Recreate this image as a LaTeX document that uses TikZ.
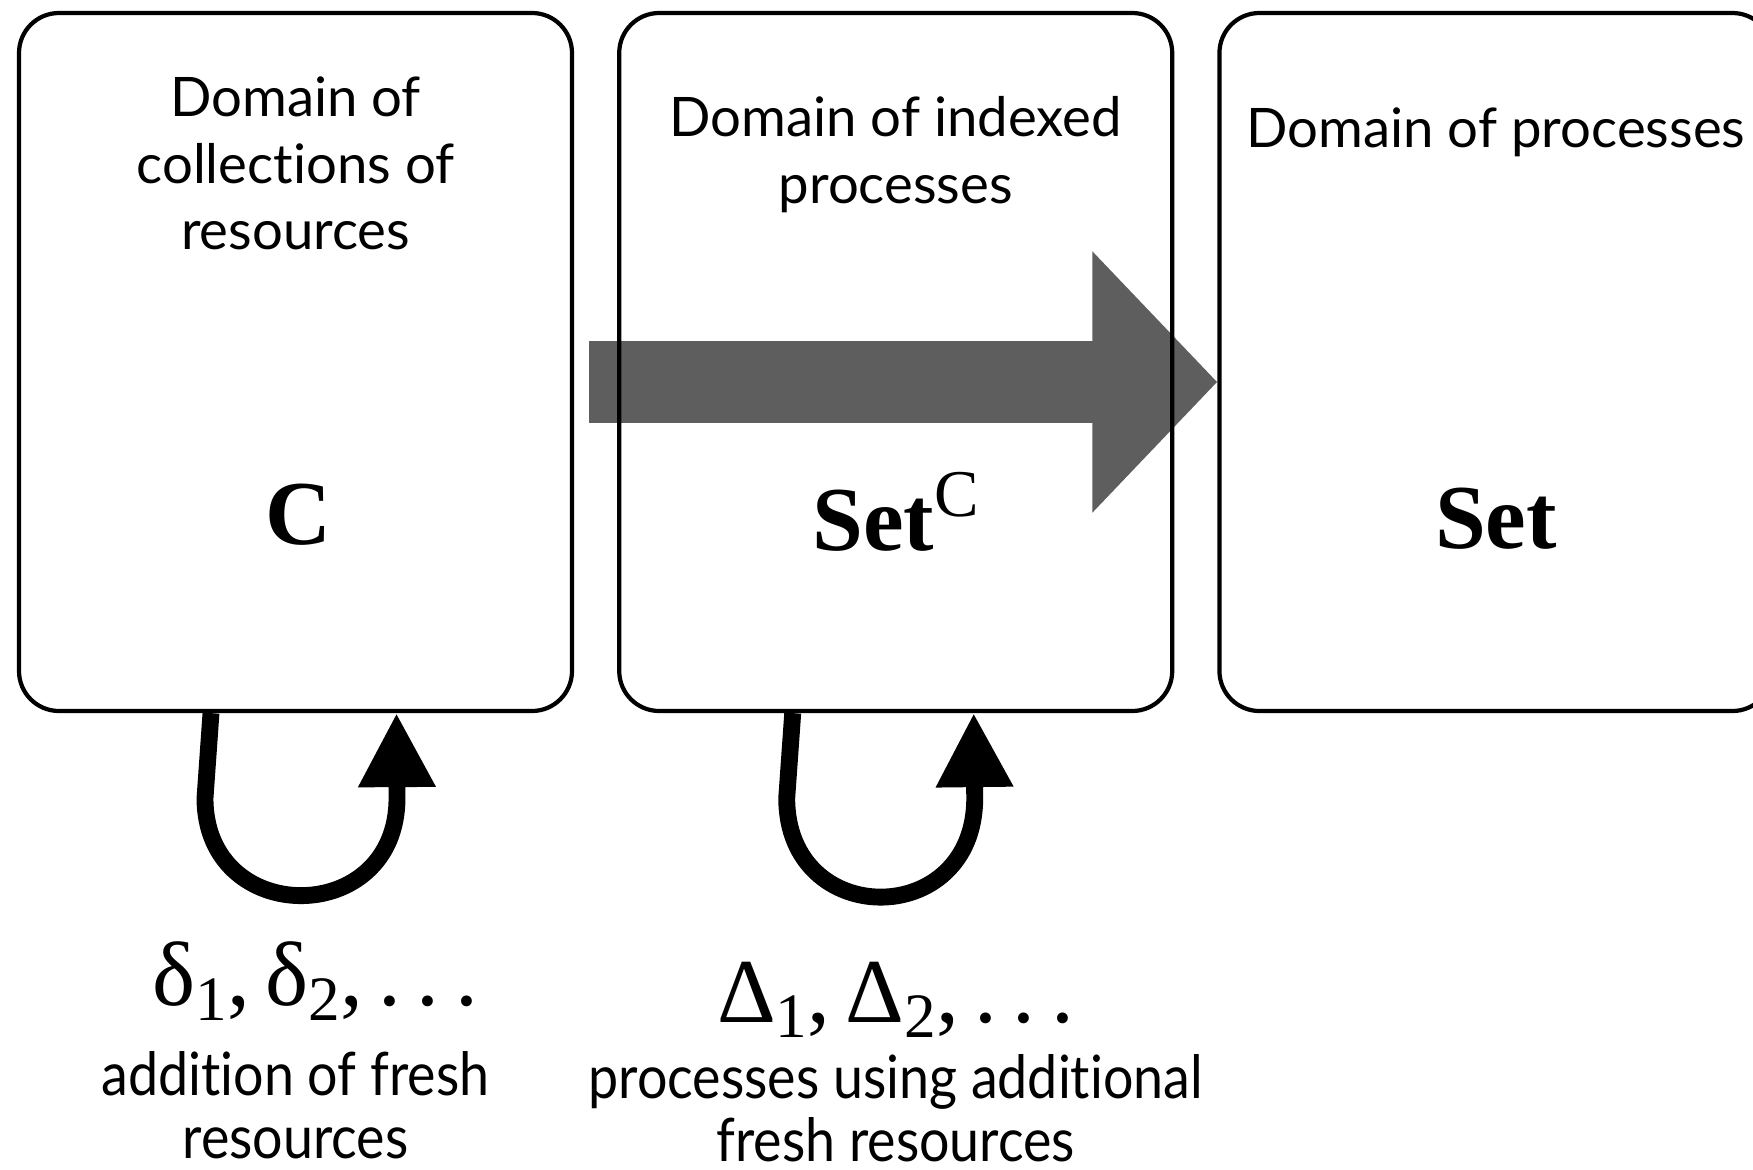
\documentclass[tikz,border=0pt]{standalone}
\usepackage{fontspec}
\newfontfamily\gillfont[Ligatures={NoCommon}]{Lato}
\newfontfamily\notefont[Ligatures={NoCommon}, FakeStretch=0.9]{Lato}
\newfontfamily\timesfont{Liberation Serif}
\usepackage{tikz}
\usetikzlibrary{arrows.meta, positioning, backgrounds}
\definecolor{arrowgray}{HTML}{5E5E5E}
\newcommand{\lowidx}[1]{\raisebox{-4.3pt}{\fontsize{18}{18}\selectfont #1}}
\newcommand{\spreaddots}{.\hspace{4.5pt}.\hspace{4.5pt}.}

\begin{document}
\begin{tikzpicture}[
    domainbox/.style={draw, rectangle, rounded corners=4mm, line width=1.2pt, minimum width=5.53cm, minimum height=6.98cm},
    domaintext/.style={align=center, inner sep=0pt, font=\gillfont\fontsize{15.5}{19}\selectfont},
    catsymbol/.style={inner sep=0pt, font=\timesfont\fontsize{26}{30}\selectfont},
    greeklbl/.style={inner sep=0pt, font=\timesfont\fontsize{26}{30}\selectfont},
    notelbl/.style={align=center, inner sep=0pt, font=\notefont\fontsize{17}{17.8}\selectfont},
    loopline/.style={line width=4.8pt, -{Triangle[length=7.4mm, width=7.3mm]}},
    bigarrow/.style={arrowgray, line width=8.2mm, -{Triangle[length=12.5mm, width=25.4mm]}}
]
    \useasboundingbox (0,0) rectangle (17.53,-11.69);

    % The three domains
    \node (boxA) [domainbox] at (2.955,-3.62) {};
    \node (boxB) [domainbox, right=4.3mm of boxA] {};
    \node (boxC) [domainbox, right=4.3mm of boxB] {};

    % Titles at the top of each domain
    \node (titleA) [domaintext, below=6.5mm of boxA.north] {Domain of\\collections of\\resources};
    \node (titleB) [domaintext, below=8.5mm of boxB.north] {Domain of indexed\\processes};
    \node (titleC) [domaintext, below=9.6mm of boxC.north] {Domain of processes};

    % Categories
    \node (catA) [catsymbol, anchor=base] at ([xshift=0.3mm,yshift=-18.2mm]boxA.center) {\textbf{C}};
    \node (catB) [catsymbol, anchor=base] at ([yshift=-18.8mm]boxB.center) {\textbf{Set}\raisebox{9.6pt}{\fontsize{19}{19}\selectfont C}};
    \node (catC) [catsymbol, anchor=base] at ([yshift=-18.6mm]boxC.center) {\textbf{Set}};

    % Functor arrow behind the boxes
    \begin{scope}[on background layer]
        \draw[bigarrow] ([xshift=1.5mm,yshift=-2mm]boxA.east) -- ([yshift=-2mm]boxC.west);
    \end{scope}

    % Loops under the first two domains
    \draw[loopline] ([xshift=-8.45mm]boxA.south) -- ++(-0.06,-0.85)
        .. controls +(0,-1.3) and +(0,-1.3) .. ++(1.92,0) -- ([xshift=10.1mm]boxA.south);
    \draw[loopline] ([xshift=-10.3mm]boxB.south) -- ++(-0.06,-0.85)
        .. controls +(0,-1.32) and +(0,-1.32) .. ++(1.88,0) -- ([xshift=7.8mm]boxB.south);

    % Labels of the loops
    \node (deltaA) [greeklbl, anchor=base] at ([xshift=2mm,yshift=-29.2mm]boxA.south) {δ\lowidx{1},\,δ\lowidx{2},\,\spreaddots};
    \node (deltaB) [greeklbl, anchor=base] at ([yshift=-30.9mm]boxB.south) {Δ\lowidx{1},\,Δ\lowidx{2},\,\spreaddots};
    \node (noteA) [notelbl, below=3mm of deltaA, xshift=-2mm] {addition of fresh\\resources};
    \node (noteB) [notelbl, below=1.6mm of deltaB] {processes using additional\\fresh resources};

\end{tikzpicture}
\end{document}
